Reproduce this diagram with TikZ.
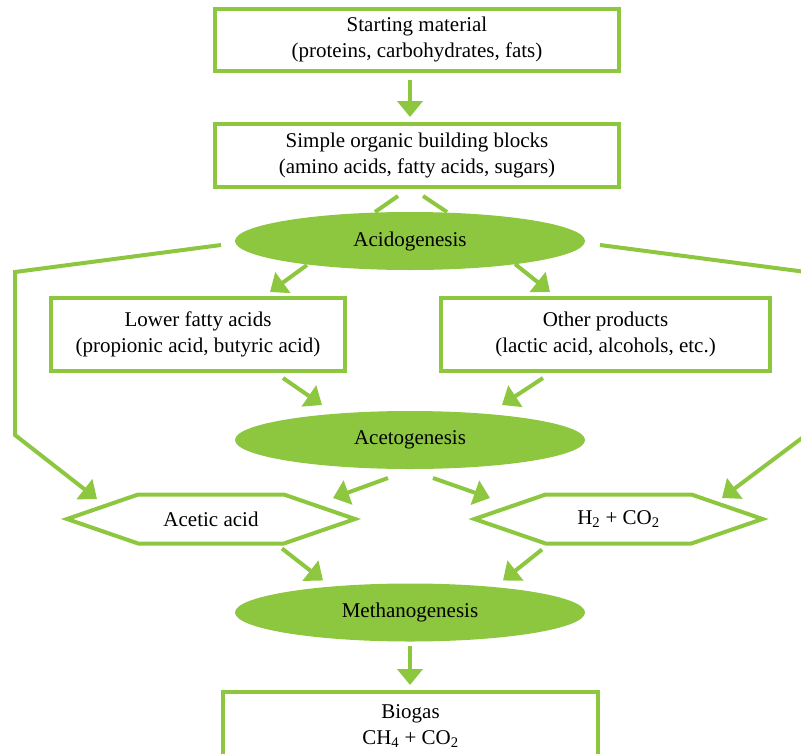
\documentclass[tikz,border=0pt]{standalone}
\usepackage{fontspec}
\setmainfont{Liberation Serif}
\usepackage{tikz}
\usetikzlibrary{shapes.geometric,shapes.symbols}
\usetikzlibrary{arrows.meta}
\definecolor{leaf}{RGB}{141,198,63}

\begin{document}
\begin{tikzpicture}[x=1pt, y=-1pt,
      every node/.style={font=\fontsize{21}{26}\selectfont, outer sep=0pt},
      block/.style={draw=leaf, line width=4pt, align=center, inner sep=0pt},
      phase/.style={ellipse, fill=leaf, minimum width=350pt, minimum height=58pt, inner sep=0pt},
      product/.style={signal, signal to=west and east, signal pointer angle=38,
            draw=leaf, line width=4pt, minimum width=288pt, minimum height=49pt, inner sep=0pt},
      link/.style={color=leaf, line width=4pt},
      flow/.style={link, -{Triangle[length=16pt,width=25pt]}}]
      
      \useasboundingbox (0,0) rectangle (801,753);
      
      \node[block, minimum width=404pt, minimum height=61.5pt] (start) at (417,39.75)
            {Starting material\\(proteins, carbohydrates, fats)};
      \node[block, minimum width=404pt, minimum height=63pt] (blocks) at (417,155.5)
            {Simple organic building blocks\\(amino acids, fatty acids, sugars)};
      \node[phase] (acido) at (410,241) {Acidogenesis};
      \node[block, minimum width=294pt, minimum height=73pt] (lower) at (198,334.5)
            {Lower fatty acids\\(propionic acid, butyric acid)};
      \node[block, minimum width=329pt, minimum height=73pt] (other) at (605.5,334.5)
            {Other products\\(lactic acid, alcohols, etc.)};
      \node[phase] (aceto) at (410,440) {Acetogenesis};
      \node[product] (acetic) at (211,519) {Acetic acid};
      \node[product] (hydro) at (618.5,519) {H\textsubscript{2} + CO\textsubscript{2}};
      \node[phase] (methano) at (410,612.5) {Methanogenesis};
      \node[block, minimum width=375pt, inner ysep=12.7pt, anchor=north] (biogas) at (410.5,692)
            {Biogas\\CH\textsubscript{4} + CO\textsubscript{2}};
      
      \path[flow] ([shift={(-7,9.5)}]start.south) edge ([shift={(-7,-7)}]blocks.north)
                  ([shift={(-103,-5)}]acido.south) edge ([shift={(72,-6)}]lower.north)
                  ([shift={(105,-6)}]acido.south) edge ([shift={(-55.5,-6)}]other.north)
                  ([shift={(85,7)}]lower.south) edge ([shift={(-88,-6)}]aceto.north)
                  ([shift={(-62.5,7)}]other.south) edge ([shift={(92,-6)}]aceto.north)
                  ([shift={(-22,9)}]aceto.south) edge ([shift={(122,3.5)}]acetic.north)
                  ([shift={(23,9)}]aceto.south) edge ([shift={(-128.5,3.5)}]hydro.north)
                  ([shift={(71,5)}]acetic.south) edge ([shift={(-87,-3)}]methano.north)
                  ([shift={(-76.5,6)}]hydro.south) edge ([shift={(93,-3)}]methano.north)
                  ([shift={(0,4.5)}]methano.south) edge ([shift={(-0.5,-7)}]biogas.north);
      
      \path[link] ([shift={(-19,9)}]blocks.south) edge ([shift={(-35,0)}]acido.north)
                  ([shift={(6,9)}]blocks.south) edge ([shift={(37,0)}]acido.north);
      
      \draw[flow] ([shift={(-14,4)}]acido.west) -- ++(-206,27) -- ++(0,163)
                  -- ([shift={(-114,4.5)}]acetic.north);
      \draw[flow] ([shift={(15,4)}]acido.east) -- ++(206,27) -- ++(0,163)
                  -- ([shift={(103.5,3.5)}]hydro.north);
\end{tikzpicture}
\end{document}
